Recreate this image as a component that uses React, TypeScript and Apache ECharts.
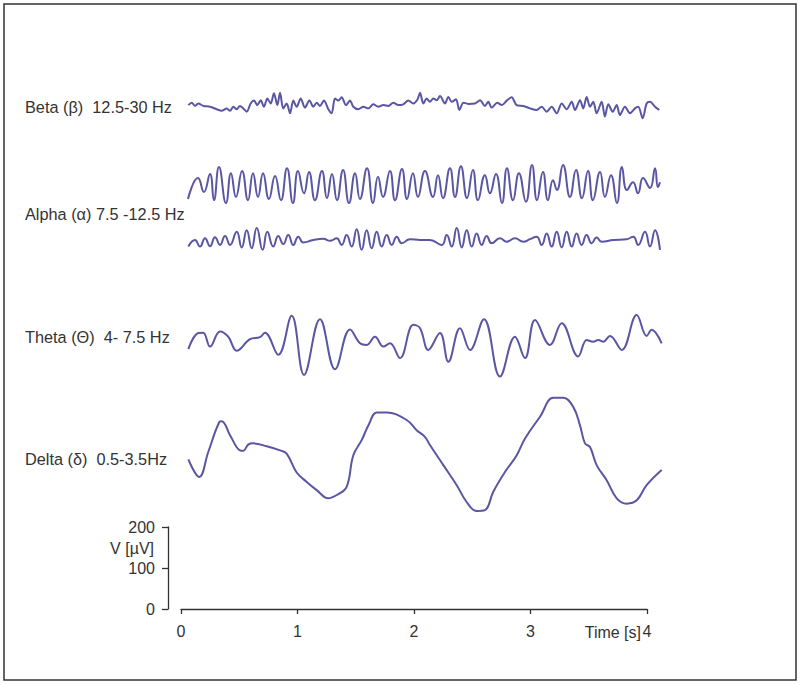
import React, { useEffect, useRef } from "react";
import * as echarts from "echarts";

// time axis (s) and scale-bar axis (µV)
const X_TICKS = [0, 1, 2, 3, 4];
const V_TICKS = [0, 100, 200];

// baseline offsets (µV) of each trace within the stacked plot
const OFFSETS = { beta: 1234, alpha1: 1034, alpha2: 900, theta: 649, delta: 363 };

const LABELS = [
  "Beta (β)  12.5-30 Hz",
  "Alpha (α) 7.5 -12.5 Hz",
  "Theta (Θ)  4- 7.5 Hz",
  "Delta (δ)  0.5-3.5Hz",
];

// [time s, amplitude µV]
const BETA: number[][] = [
  [0.063,-5],[0.092,1],[0.120,-7],[0.149,-1],[0.192,-7],[0.249,-9],[0.306,-15],[0.349,-19],[0.392,-13],[0.421,-19],[0.449,-9],[0.478,-15],[0.506,-7],[0.535,-13],[0.564,-21],[0.598,-1],[0.627,6],[0.655,-5],[0.684,7],[0.712,-9],[0.741,11],[0.770,-1],[0.798,24],[0.827,-5],[0.850,25],[0.878,-13],[0.907,-1],[0.936,-25],[0.964,6],[0.993,-9],[1.027,11],[1.064,-11],[1.102,6],[1.136,-9],[1.165,1],[1.193,-7],[1.227,6],[1.265,-15],[1.293,-25],[1.322,11],[1.351,6],[1.379,14],[1.416,-5],[1.451,6],[1.479,-9],[1.522,-15],[1.565,-9],[1.608,-13],[1.651,-3],[1.694,-9],[1.737,-5],[1.780,-7],[1.823,1],[1.865,-5],[1.908,-3],[1.951,6],[1.994,-1],[2.029,8],[2.052,25],[2.080,-1],[2.109,11],[2.137,3],[2.166,11],[2.195,7],[2.223,17],[2.266,-1],[2.295,15],[2.324,3],[2.361,9],[2.389,-17],[2.424,1],[2.466,-2],[2.524,-1],[2.567,7],[2.609,-7],[2.638,3],[2.667,-11],[2.715,1],[2.753,-5],[2.796,6],[2.838,14],[2.881,-5],[2.938,-7],[2.996,-13],[3.053,-17],[3.096,-9],[3.139,-21],[3.182,-9],[3.225,-25],[3.268,-1],[3.311,-15],[3.354,3],[3.382,-17],[3.425,7],[3.453,-13],[3.482,15],[3.511,-9],[3.539,3],[3.568,-25],[3.611,3],[3.639,-33],[3.668,-3],[3.706,-21],[3.740,-5],[3.768,-29],[3.811,-9],[3.854,-25],[3.897,-13],[3.925,-9],[3.963,-37],[3.997,-1],[4.026,3],[4.069,-9],[4.106,-17],
];

const ALPHA1: number[][] = [
  [0.060,-34],[0.146,17],[0.197,-17],[0.249,27],[0.283,-37],[0.326,44],[0.386,-44],[0.429,29],[0.472,-29],[0.524,34],[0.575,-37],[0.618,29],[0.661,-29],[0.704,29],[0.755,-34],[0.807,22],[0.858,-37],[0.910,41],[0.961,-44],[1.004,34],[1.056,-20],[1.099,32],[1.150,-37],[1.210,34],[1.253,-32],[1.296,27],[1.339,-37],[1.391,37],[1.442,-44],[1.494,29],[1.536,-34],[1.597,41],[1.648,-44],[1.691,20],[1.734,-29],[1.794,34],[1.837,-37],[1.897,39],[1.940,-34],[1.991,29],[2.034,-29],[2.094,34],[2.163,-29],[2.206,24],[2.249,-32],[2.309,41],[2.352,-29],[2.403,46],[2.455,-32],[2.506,37],[2.549,-37],[2.609,24],[2.652,-20],[2.704,27],[2.755,-44],[2.798,41],[2.850,-37],[2.901,29],[2.961,-41],[3.013,49],[3.056,-37],[3.107,32],[3.150,-37],[3.193,12],[3.227,-12],[3.279,49],[3.339,-29],[3.391,37],[3.442,-32],[3.494,34],[3.536,-37],[3.597,32],[3.639,-29],[3.691,24],[3.742,-44],[3.785,44],[3.828,-12],[3.880,7],[3.923,-20],[3.966,17],[4.026,-7],[4.069,41],[4.094,-5],[4.112,7],
];

const ALPHA2: number[][] = [
  [0.063,-16],[0.120,0],[0.163,-16],[0.206,4],[0.249,-15],[0.292,7],[0.335,-12],[0.378,10],[0.421,-12],[0.478,20],[0.521,-18],[0.564,24],[0.607,-20],[0.650,29],[0.701,-24],[0.741,20],[0.792,-16],[0.835,10],[0.878,-10],[0.921,12],[0.964,-12],[1.007,8],[1.050,-6],[1.136,0],[1.221,3],[1.279,-2],[1.336,4],[1.379,-12],[1.422,12],[1.465,-16],[1.508,26],[1.551,-24],[1.594,24],[1.637,-20],[1.680,20],[1.723,-16],[1.766,12],[1.809,-12],[1.852,8],[1.895,-8],[1.966,2],[2.052,0],[2.137,0],[2.238,-12],[2.281,12],[2.324,-16],[2.367,29],[2.410,-18],[2.453,24],[2.496,-16],[2.538,16],[2.581,-12],[2.624,10],[2.667,-8],[2.738,4],[2.796,-4],[2.867,4],[2.938,-4],[2.996,2],[3.053,8],[3.096,-12],[3.139,16],[3.182,-16],[3.225,20],[3.268,-18],[3.311,20],[3.354,-16],[3.396,16],[3.439,-12],[3.482,12],[3.525,-8],[3.568,6],[3.611,-4],[3.711,0],[3.826,2],[3.882,8],[3.925,-12],[3.983,20],[4.026,-16],[4.069,24],[4.112,-24],
];

const THETA: number[][] = [
  [0.063,-15],[0.148,24],[0.191,25],[0.249,-9],[0.335,28],[0.406,15],[0.478,-19],[0.592,9],[0.678,14],[0.721,25],[0.835,-29],[0.950,66],[1.056,-78],[1.193,58],[1.322,-64],[1.451,33],[1.537,-1],[1.594,-5],[1.665,15],[1.737,-9],[1.794,-1],[1.880,-37],[1.994,44],[2.052,36],[2.123,-17],[2.223,24],[2.295,-46],[2.395,36],[2.481,-17],[2.601,58],[2.738,-82],[2.867,15],[2.953,-37],[3.039,56],[3.167,-5],[3.268,48],[3.410,-33],[3.483,7],[3.539,3],[3.582,7],[3.625,3],[3.682,17],[3.783,-17],[3.912,68],[3.997,17],[4.040,32],[4.126,-1],
];

const DELTA: number[][] = [
  [0.063,2],[0.157,-41],[0.234,20],[0.329,93],[0.350,95],[0.421,61],[0.506,24],[0.535,23],[0.577,38],[0.620,41],[0.736,34],[0.850,24],[0.907,16],[0.993,-30],[1.079,-53],[1.165,-73],[1.264,-93],[1.337,-85],[1.422,-65],[1.479,12],[1.551,49],[1.609,85],[1.680,116],[1.766,116],[1.937,98],[2.023,73],[2.094,57],[2.137,37],[2.252,-12],[2.367,-61],[2.452,-102],[2.538,-124],[2.609,-122],[2.681,-77],[2.781,-29],[2.882,12],[2.953,53],[3.082,106],[3.196,152],[3.282,152],[3.367,130],[3.425,85],[3.468,41],[3.511,32],[3.568,-12],[3.654,-49],[3.740,-93],[3.826,-106],[3.912,-98],[3.997,-61],[4.126,-24],
];

const TRACE_COLOR = "#5a56a3";
const AXIS_COLOR = "#333333";
const FONT = "Liberation Sans, Arial, sans-serif";
// trace panel spans a little past the 4 s tick (4.129 s at its right edge)
const TRACE_X_MAX = 4.129;

function shift(points: number[][], offset: number) {
  return points.map(([t, v]) => [t, v + offset]);
}

export default function App() {
  const ref = useRef<HTMLDivElement>(null);
  useEffect(() => {
    const chart = echarts.init(ref.current!, null, { renderer: "svg" });
    const traces = [
      { name: "beta", data: BETA, off: OFFSETS.beta, smooth: 0.3 },
      { name: "alpha1", data: ALPHA1, off: OFFSETS.alpha1, smooth: 0.5 },
      { name: "alpha2", data: ALPHA2, off: OFFSETS.alpha2, smooth: 0.5 },
      { name: "theta", data: THETA, off: OFFSETS.theta, smooth: 0.4 },
      { name: "delta", data: DELTA, off: OFFSETS.delta, smooth: 0.4 },
    ];
    const labelYs = [107, 214, 337, 459];
    chart.setOption({
      animation: false,
      backgroundColor: "#ffffff",
      grid: [
        { left: 181, right: 153, top: 527, bottom: 76 },
        { left: 181, right: 138, top: 76, bottom: 76 },
      ],
      xAxis: [
        {
          gridIndex: 0,
          type: "value",
          min: X_TICKS[0],
          max: X_TICKS[X_TICKS.length - 1],
          interval: 1,
          axisLine: { show: true, onZero: false, lineStyle: { color: AXIS_COLOR, width: 1.3 } },
          axisTick: { show: true, length: 5, lineStyle: { color: AXIS_COLOR, width: 1.3 } },
          axisLabel: { fontSize: 16, color: "#333", fontFamily: FONT, margin: 14 },
          splitLine: { show: false },
        },
        { gridIndex: 1, type: "value", min: 0, max: TRACE_X_MAX, show: false },
      ],
      yAxis: [
        {
          gridIndex: 0,
          type: "value",
          min: V_TICKS[0],
          max: V_TICKS[V_TICKS.length - 1],
          interval: 100,
          offset: 13,
          axisLine: { show: true, onZero: false, lineStyle: { color: AXIS_COLOR, width: 1.3 } },
          axisTick: { show: true, length: 6, lineStyle: { color: AXIS_COLOR, width: 1.3 } },
          axisLabel: { fontSize: 16, color: "#333", fontFamily: FONT, margin: 13 },
          splitLine: { show: false },
        },
        { gridIndex: 1, type: "value", min: 0, max: 1300, show: false },
      ],
      series: traces.map((tr) => ({
        type: "line",
        name: tr.name,
        xAxisIndex: 1,
        yAxisIndex: 1,
        data: shift(tr.data, tr.off),
        showSymbol: false,
        smooth: tr.smooth,
        clip: false,
        lineStyle: { color: TRACE_COLOR, width: 2 },
      })),
      graphic: [
        {
          type: "rect",
          shape: { x: 4, y: 4, width: 792, height: 676 },
          style: { fill: "none", stroke: "#333", lineWidth: 1.5 },
          silent: true,
        },
        ...LABELS.map((txt, i) => ({
          type: "text",
          x: 25,
          y: labelYs[i],
          style: { text: txt, fontSize: 16.3, fontFamily: FONT, fill: "#333", verticalAlign: "middle", align: "left" },
        })),
        {
          type: "text",
          x: 154,
          y: 548,
          style: { text: "V [µV]", fontSize: 16, fontFamily: FONT, fill: "#333", verticalAlign: "middle", align: "right" },
        },
        {
          type: "text",
          x: 641,
          y: 632,
          style: { text: "Time [s]", fontSize: 16, fontFamily: FONT, fill: "#333", verticalAlign: "middle", align: "right" },
        },
      ],
    });
    return () => chart.dispose();
  }, []);
  return (
    <div
      ref={ref}
      style={{ position: "absolute", left: 0, top: 0, width: 800, height: 685, background: "#fff" }}
    />
  );
}
